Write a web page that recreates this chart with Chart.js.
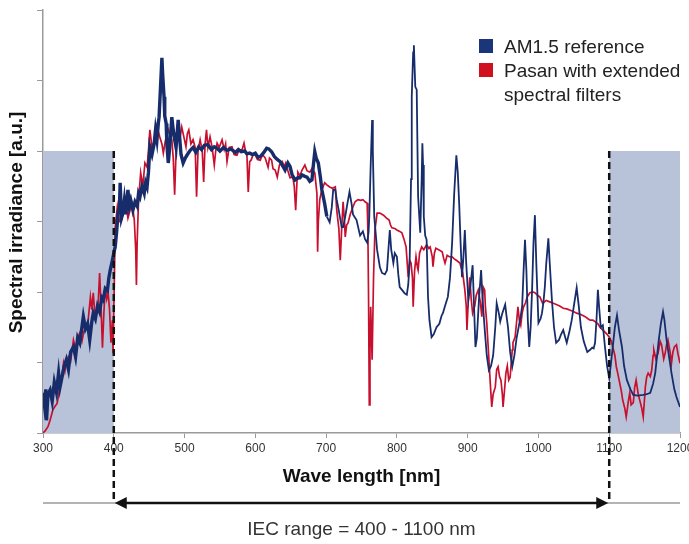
<!DOCTYPE html>
<html>
<head>
<meta charset="utf-8">
<title>Spectral irradiance</title>
<script src="https://cdn.jsdelivr.net/npm/chart.js@4.4.1/dist/chart.umd.min.js"></script>
<style>
  html, body { margin: 0; padding: 0; background: #fff; }
  #wrap { position: relative; width: 689px; height: 544px; }
  #legend {
    position: absolute; left: 479px; top: 35px;
    font-family: "Liberation Sans", Arial, sans-serif; font-size: 19px;
    color: #222; line-height: 24px; white-space: nowrap;
  }
  .item { position: relative; padding-left: 25px; }
  .swatch { position: absolute; left: 0; top: 4px; width: 14px; height: 14px; }
</style>
</head>
<body>
<div id="wrap">
  <canvas id="spectrumChart" width="689" height="544"></canvas>
  <div id="legend"></div>
</div>
<script>
// wavelength ticks and ranges
const xTicks = [300, 400, 500, 600, 700, 800, 900, 1000, 1100, 1200];
const excludedRanges = [[300, 400], [1100, 1200]];
const iecRange = [400, 1100];
const shadeTop = 4;

// AM1.5 reference spectrum
const amNm = [
  300, 302, 304, 305, 307, 310, 313, 316, 319, 322, 324, 327, 330, 333, 336, 339, 343, 346, 349, 352,
  355, 357, 360, 363, 366, 369, 371, 374, 377, 380, 383, 385, 388, 391, 393, 395, 398, 400, 402, 404,
  406, 408, 409, 411, 413, 415, 417, 420, 422, 424, 427, 430, 433, 435, 437, 440, 443, 445, 447, 449,
  451, 454, 457, 459, 461, 463, 464, 466, 468, 469, 471, 472, 474, 475, 477, 479, 482, 484, 486, 488,
  491, 493, 495, 498, 501, 504, 508, 512, 516, 520, 524, 528, 533, 538, 542, 546, 550, 555, 560, 565,
  568, 572, 576, 580, 585, 588, 592, 596, 600, 604, 608, 612, 616, 619, 623, 627, 631, 635, 638, 642,
  646, 649, 652, 656, 660, 663, 666, 670, 673, 677, 680, 682, 684, 686, 689, 692, 694, 698, 701, 705,
  708, 710, 713, 715, 718, 722, 724, 727, 730, 733, 736, 738, 743, 748, 752, 755, 758, 760, 761, 763,
  765, 766, 768, 772, 776, 779, 783, 786, 788, 790, 792, 795, 797, 800, 802, 804, 808, 811, 814, 816,
  818, 820, 821, 823, 824, 825, 826, 828, 830, 833, 835, 836, 837, 838, 840, 842, 844, 846, 849, 852,
  856, 860, 863, 865, 868, 872, 875, 878, 881, 884, 886, 888, 890, 892, 894, 896, 898, 901, 904, 907,
  909, 911, 913, 916, 919, 921, 924, 927, 930, 933, 936, 939, 941, 944, 946, 949, 953, 955, 957, 960,
  963, 966, 969, 972, 975, 977, 979, 981, 983, 985, 987, 989, 991, 993, 995, 997, 1000, 1003, 1005, 1007,
  1009, 1011, 1014, 1016, 1019, 1022, 1025, 1029, 1032, 1035, 1038, 1040, 1044, 1047, 1050, 1054, 1057, 1060, 1064, 1069,
  1073, 1076, 1078, 1080, 1082, 1084, 1086, 1088, 1091, 1094, 1097, 1100, 1102, 1105, 1108, 1111, 1114, 1118, 1121, 1125,
  1130, 1134, 1140, 1148, 1153, 1158, 1162, 1165, 1170, 1173, 1176, 1178, 1181, 1185, 1188, 1192, 1195, 1200
];
const amValue = [
  0.57, 0.40, 0.62, 0.18, 0.55, 0.61, 0.45, 0.72, 0.58, 0.85, 0.65, 0.80, 0.95, 1.04, 0.90, 1.15, 1.22, 1.08, 1.35, 1.28,
  1.50, 1.65, 1.48, 1.55, 1.32, 1.58, 1.70, 1.62, 1.80, 1.72, 1.92, 1.89, 2.05, 2.02, 2.20, 2.31, 2.45, 2.55, 2.64, 2.85,
  3.12, 3.20, 3.55, 3.05, 3.12, 3.30, 3.10, 3.45, 3.22, 3.30, 3.16, 3.28, 3.22, 3.40, 3.35, 3.50, 3.40, 3.55, 3.49, 3.70,
  4.06, 3.95, 4.10, 4.30, 4.16, 4.40, 4.48, 4.90, 5.32, 5.10, 4.77, 4.50, 4.39, 4.10, 3.83, 4.05, 4.48, 4.30, 4.16, 4.05,
  4.44, 4.20, 3.95, 3.83, 3.90, 3.95, 4.01, 4.05, 3.98, 4.06, 4.02, 4.08, 4.09, 4.02, 4.06, 4.04, 4.00, 4.05, 4.01, 4.03,
  4.01, 3.98, 4.02, 3.99, 4.00, 3.96, 3.97, 3.95, 3.97, 3.91, 3.93, 3.98, 4.04, 4.03, 3.99, 3.92, 3.88, 3.85, 3.80, 3.73,
  3.83, 3.78, 3.66, 3.59, 3.62, 3.62, 3.66, 3.64, 3.63, 3.57, 3.59, 3.80, 3.99, 3.90, 3.83, 3.62, 3.45, 3.25, 3.07, 2.99,
  3.20, 3.45, 3.45, 3.31, 3.15, 2.92, 2.92, 3.07, 3.25, 3.42, 3.25, 3.10, 3.02, 2.80, 2.86, 2.75, 2.70, 2.85, 3.07, 3.80,
  4.44, 4.00, 3.07, 2.60, 2.35, 2.27, 2.25, 2.31, 2.60, 2.88, 2.60, 2.41, 2.55, 2.50, 2.25, 2.07, 2.02, 1.98, 1.96, 2.10,
  2.41, 3.60, 4.77, 5.40, 5.50, 5.20, 4.91, 4.87, 3.35, 2.84, 3.60, 4.11, 3.80, 3.07, 2.80, 2.74, 1.93, 1.60, 1.36, 1.40,
  1.50, 1.55, 1.66, 1.70, 1.80, 1.93, 2.20, 2.69, 3.40, 3.94, 3.70, 3.26, 2.70, 2.21, 2.50, 2.88, 2.40, 1.89, 2.10, 2.38,
  1.80, 1.22, 1.35, 1.90, 2.31, 1.90, 1.48, 1.10, 0.89, 0.95, 1.10, 1.50, 1.84, 1.70, 1.58, 1.70, 1.82, 1.65, 1.50, 1.15,
  0.94, 1.10, 1.34, 1.50, 1.66, 1.80, 2.30, 2.74, 2.30, 1.60, 1.22, 1.50, 2.03, 2.70, 3.09, 2.40, 1.56, 1.62, 1.70, 1.85,
  2.07, 2.40, 2.76, 2.40, 1.89, 1.50, 1.28, 1.32, 1.40, 1.46, 1.35, 1.28, 1.45, 1.60, 1.80, 2.06, 1.80, 1.50, 1.30, 1.15,
  1.18, 1.21, 1.20, 1.28, 1.60, 2.03, 1.75, 1.50, 1.53, 1.22, 0.95, 0.78, 0.95, 1.22, 1.50, 1.67, 1.45, 1.22, 0.95, 0.75,
  0.62, 0.54, 0.53, 0.54, 0.55, 0.57, 0.70, 0.85, 1.32, 1.55, 1.72, 1.60, 1.32, 1.05, 0.85, 0.62, 0.51, 0.37
];

// Pasan simulator with extended spectral filters
const pasanNm = [
  300, 303, 307, 310, 314, 317, 320, 323, 326, 329, 331, 333, 336, 339, 343, 346, 349, 352, 355, 358,
  362, 364, 367, 369, 371, 373, 376, 378, 380, 382, 384, 386, 388, 390, 392, 394, 396, 398, 399, 401,
  402, 405, 408, 411, 414, 417, 420, 423, 426, 429, 431, 432, 433, 435, 438, 441, 444, 447, 449, 451,
  454, 458, 461, 465, 468, 470, 473, 477, 480, 482, 484, 486, 488, 490, 493, 496, 499, 502, 504, 506,
  509, 512, 515, 517, 519, 522, 525, 527, 529, 531, 533, 536, 539, 542, 544, 546, 549, 553, 556, 558,
  560, 563, 567, 570, 574, 577, 581, 584, 586, 588, 590, 592, 594, 597, 600, 603, 607, 610, 614, 618,
  620, 623, 625, 628, 631, 634, 638, 641, 643, 646, 649, 653, 655, 657, 659, 660, 663, 666, 670, 673,
  677, 680, 684, 687, 688, 689, 691, 694, 698, 701, 705, 709, 713, 715, 718, 720, 722, 724, 726, 727,
  729, 731, 734, 738, 741, 745, 749, 752, 755, 758, 759, 760, 761, 762, 763, 764, 765, 767, 769, 772,
  776, 781, 785, 789, 791, 793, 797, 800, 804, 807, 810, 813, 816, 818, 820, 822, 823, 825, 827, 829,
  830, 832, 835, 838, 842, 845, 847, 850, 851, 853, 855, 859, 864, 866, 868, 871, 874, 878, 881, 884,
  889, 893, 896, 898, 899, 901, 903, 905, 907, 910, 912, 915, 918, 920, 922, 924, 925, 927, 930, 932,
  934, 936, 939, 941, 943, 945, 947, 949, 950, 952, 954, 956, 958, 960, 963, 964, 967, 969, 971, 973,
  975, 977, 979, 982, 984, 988, 992, 995, 999, 1002, 1006, 1011, 1016, 1021, 1026, 1030, 1035, 1040, 1045, 1050,
  1054, 1060, 1066, 1070, 1073, 1077, 1080, 1084, 1087, 1091, 1094, 1097, 1100, 1103, 1105, 1108, 1110, 1112, 1114, 1117,
  1119, 1122, 1124, 1127, 1129, 1131, 1134, 1136, 1138, 1141, 1143, 1146, 1148, 1150, 1151, 1153, 1155, 1158, 1160, 1162,
  1163, 1166, 1169, 1172, 1174, 1177, 1179, 1181, 1183, 1186, 1188, 1190, 1192, 1195, 1197, 1200
];
const pasanValue = [
  0.00, 0.03, 0.09, 0.18, 0.33, 0.38, 0.42, 0.60, 0.75, 0.99, 0.88, 1.00, 1.08, 1.02, 1.32, 1.20, 1.35, 1.42, 1.30, 1.45,
  1.50, 1.62, 1.93, 1.75, 1.99, 1.72, 1.70, 1.85, 2.27, 1.80, 1.21, 1.70, 2.07, 1.90, 1.99, 1.75, 1.28, 1.60, 1.13, 2.27,
  2.92, 3.21, 3.00, 3.02, 3.20, 3.26, 3.05, 3.16, 3.25, 3.02, 2.60, 2.10, 2.70, 3.30, 3.69, 3.50, 3.83, 3.77, 4.00, 4.30,
  4.05, 4.16, 4.35, 4.20, 4.10, 3.97, 4.15, 4.30, 4.20, 4.16, 3.90, 3.38, 4.00, 4.26, 4.15, 4.34, 4.20, 4.06, 4.25, 4.30,
  4.10, 4.16, 4.05, 3.35, 4.00, 4.16, 4.00, 3.56, 4.10, 4.30, 4.05, 4.20, 4.05, 3.80, 4.00, 4.11, 4.05, 4.16, 4.02, 4.10,
  3.85, 4.05, 4.06, 3.95, 3.94, 4.02, 4.01, 4.11, 4.00, 3.97, 3.42, 3.85, 3.87, 3.95, 3.94, 3.88, 3.87, 3.95, 3.90, 3.77,
  3.90, 3.87, 3.75, 3.73, 3.63, 3.80, 3.85, 3.78, 3.83, 3.72, 3.62, 3.63, 3.50, 3.16, 3.60, 3.70, 3.65, 3.73, 3.80, 3.72,
  3.70, 3.75, 3.69, 3.40, 2.57, 3.00, 3.31, 3.45, 3.55, 3.52, 3.49, 3.47, 3.49, 3.16, 2.90, 2.45, 2.90, 3.28, 3.00, 2.78,
  2.95, 2.98, 3.10, 3.21, 3.28, 3.31, 3.30, 3.31, 3.28, 3.26, 2.88, 1.89, 0.40, 1.20, 1.79, 1.40, 1.04, 2.20, 2.88, 3.12,
  3.12, 3.09, 3.05, 3.02, 2.95, 2.91, 2.90, 2.88, 2.86, 2.84, 2.75, 2.64, 2.21, 2.45, 2.41, 2.20, 1.79, 2.30, 2.50, 2.35,
  2.31, 2.55, 2.64, 2.60, 2.67, 2.62, 2.64, 2.50, 2.36, 2.55, 2.62, 2.60, 2.57, 2.48, 2.41, 2.52, 2.50, 2.50, 2.47, 2.45,
  2.41, 2.27, 2.03, 1.80, 1.46, 1.90, 2.21, 1.90, 1.70, 1.80, 1.95, 2.03, 1.85, 1.65, 2.07, 2.03, 1.80, 1.56, 1.05, 0.70,
  0.37, 0.55, 0.65, 0.90, 0.94, 0.80, 0.75, 0.55, 0.37, 0.60, 0.85, 0.95, 0.75, 0.79, 1.18, 1.28, 1.36, 1.56, 1.79, 1.60,
  1.53, 1.70, 1.79, 1.85, 1.93, 1.99, 2.00, 1.99, 1.95, 1.93, 1.84, 1.88, 1.86, 1.84, 1.82, 1.80, 1.77, 1.76, 1.74, 1.72,
  1.70, 1.68, 1.65, 1.62, 1.60, 1.60, 1.58, 1.55, 1.50, 1.46, 1.43, 1.40, 1.36, 1.30, 1.22, 1.10, 0.94, 0.85, 0.75, 0.60,
  0.47, 0.35, 0.23, 0.45, 0.57, 0.40, 0.43, 0.65, 0.75, 0.55, 0.47, 0.35, 0.23, 0.50, 0.65, 0.80, 0.85, 0.80, 0.89, 1.10,
  1.18, 1.05, 1.13, 1.30, 1.25, 1.05, 1.13, 1.25, 1.32, 1.15, 0.99, 1.15, 1.22, 1.25, 1.13, 0.99
];

const FONT = '"Liberation Sans", Arial, sans-serif';
const AM_BLUE = '#172d6b';
const PASAN_RED = '#c8102e';
const SHADE = '#b8c3da';
const AXIS_GREY = '#9a9a9a';

// shading, dashed IEC limits, arrow and titles
const annotations = {
  id: 'annotations',
  beforeDatasetsDraw(chart) {
    const { ctx, scales: { x, y } } = chart;
    ctx.save();
    ctx.fillStyle = SHADE;
    excludedRanges.forEach(([a, b]) => {
      const x0 = x.getPixelForValue(a), x1 = x.getPixelForValue(b);
      const y0 = y.getPixelForValue(shadeTop), y1 = y.getPixelForValue(0);
      ctx.fillRect(x0, y0, x1 - x0, y1 - y0);
    });
    ctx.restore();
  },
  afterDraw(chart) {
    const { ctx, chartArea, scales: { x, y } } = chart;
    const arrowY = chartArea.bottom + 70;
    const xl = x.getPixelForValue(iecRange[0]);
    const xr = x.getPixelForValue(iecRange[1]);
    ctx.save();

    // grey baseline under the axis
    ctx.strokeStyle = AXIS_GREY;
    ctx.lineWidth = 1.5;
    ctx.beginPath();
    ctx.moveTo(chartArea.left, arrowY);
    ctx.lineTo(chartArea.right, arrowY);
    ctx.stroke();

    // dashed limits
    ctx.strokeStyle = '#111';
    ctx.lineWidth = 2.5;
    ctx.setLineDash([7, 4]);
    [xl, xr].forEach(px => {
      ctx.beginPath();
      ctx.moveTo(px, y.getPixelForValue(shadeTop));
      ctx.lineTo(px, arrowY);
      ctx.stroke();
    });
    ctx.setLineDash([]);

    // double arrow
    const head = 12, half = 6;
    ctx.beginPath();
    ctx.moveTo(xl + head, arrowY);
    ctx.lineTo(xr - head, arrowY);
    ctx.stroke();
    ctx.fillStyle = '#111';
    ctx.beginPath();
    ctx.moveTo(xl + 1, arrowY);
    ctx.lineTo(xl + 1 + head, arrowY - half);
    ctx.lineTo(xl + 1 + head, arrowY + half);
    ctx.closePath();
    ctx.fill();
    ctx.beginPath();
    ctx.moveTo(xr - 1, arrowY);
    ctx.lineTo(xr - 1 - head, arrowY - half);
    ctx.lineTo(xr - 1 - head, arrowY + half);
    ctx.closePath();
    ctx.fill();

    // titles
    const cx = (chartArea.left + chartArea.right) / 2;
    ctx.textAlign = 'center';
    ctx.textBaseline = 'middle';
    ctx.fillStyle = '#111';
    ctx.font = 'bold 19px ' + FONT;
    ctx.fillText('Wave length [nm]', cx, chartArea.bottom + 44);
    ctx.font = '19px ' + FONT;
    ctx.fillStyle = '#333';
    ctx.fillText('IEC range = 400 - 1100 nm', cx, chartArea.bottom + 97);

    ctx.translate(17, (chartArea.top + chartArea.bottom) / 2 + 1);
    ctx.rotate(-Math.PI / 2);
    ctx.font = 'bold 19px ' + FONT;
    ctx.fillStyle = '#111';
    ctx.fillText('Spectral irradiance [a.u.]', 0, 0);
    ctx.restore();
  }
};

const ctx = document.getElementById('spectrumChart').getContext('2d');
const chart = new Chart(ctx, {
  type: 'line',
  data: {
    datasets: [
      {
        label: 'AM1.5 reference',
        data: amNm.map((nm, i) => ({ x: nm, y: amValue[i] })),
        borderColor: AM_BLUE,
        borderWidth: 1.8,
        // the dense short-wave part reads as a heavier band in the original
        segment: { borderWidth: c => (c.p0.parsed.x < 700 ? 3.4 : 1.8) },
        pointRadius: 0,
        tension: 0
      },
      {
        label: ['Pasan with extended', 'spectral filters'],
        data: pasanNm.map((nm, i) => ({ x: nm, y: pasanValue[i] })),
        borderColor: PASAN_RED,
        borderWidth: 1.7,
        pointRadius: 0,
        tension: 0
      }
    ]
  },
  options: {
    responsive: false,
    animation: false,
    layout: { padding: { top: 10, right: 9, left: 0, bottom: 0 } },
    plugins: { legend: { display: false }, tooltip: { enabled: false } },
    scales: {
      x: {
        type: 'linear',
        min: 300,
        max: 1200,
        afterBuildTicks: s => { s.ticks = xTicks.map(v => ({ value: v })); },
        ticks: {
          color: '#333', font: { size: 12, family: FONT }, padding: 3,
          maxRotation: 0, autoSkip: false, callback: v => String(v)
        },
        grid: { drawOnChartArea: false, drawTicks: true, tickLength: 5, color: AXIS_GREY },
        border: { display: true, color: AXIS_GREY, width: 1.5 },
        afterFit: s => { s.height = 111; s.paddingLeft = 0; s.paddingRight = 0; }
      },
      y: {
        min: 0,
        max: 6,
        ticks: { stepSize: 1, callback: () => '' },
        grid: { drawOnChartArea: false, drawTicks: true, tickLength: 6, color: AXIS_GREY },
        border: { display: true, color: AXIS_GREY, width: 1.5 },
        afterFit: s => { s.width = 43; s.paddingTop = 0; s.paddingBottom = 0; }
      }
    }
  },
  plugins: [annotations]
});

// legend as html so the second label can wrap like the original
document.getElementById('legend').innerHTML = chart.data.datasets
  .map(ds => {
    const text = Array.isArray(ds.label) ? ds.label.join('<br>') : ds.label;
    const swatchColor = ds.borderColor === AM_BLUE ? '#1b357a' : '#d0101e';
    return `<div class="item"><span class="swatch" style="background:${swatchColor}"></span>${text}</div>`;
  })
  .join('');
</script>
</body>
</html>
